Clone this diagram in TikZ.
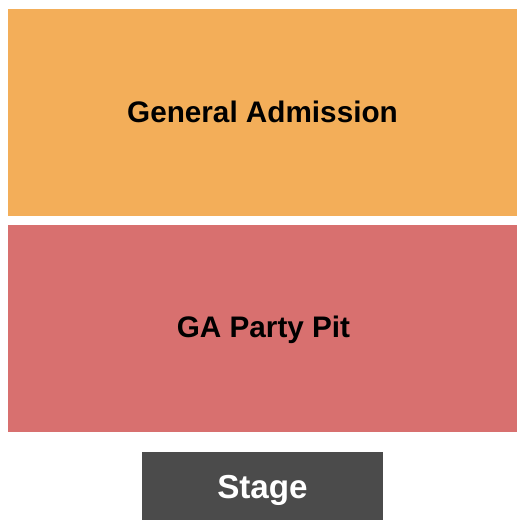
\documentclass[tikz,border=0pt]{standalone}
\usepackage{fontspec}
\setmainfont{Liberation Sans}
\definecolor{gaorange}{HTML}{F3AE59}
\definecolor{pitred}{HTML}{D8706F}
\definecolor{stagegray}{HTML}{4B4B4B}
\begin{document}
\begin{tikzpicture}[x=1pt,y=-1pt,
  lbl/.style={anchor=base,inner sep=0pt,font=\bfseries\fontsize{29.7}{34}\selectfont,text=black}]
\useasboundingbox (0,0) rectangle (525,525);
\fill[white] (0,0) rectangle (525,525);
\fill[gaorange] (8,9) rectangle (517,216);
\fill[pitred] (8,225) rectangle (517,432);
\fill[stagegray] (142,452) rectangle (383,520);
\node[lbl] (ga) at (262.5,122.3) {General Admission};
\node[lbl] (pit) at (263.5,337.3) {GA Party Pit};
\node[lbl,text=white,font=\bfseries\fontsize{33.2}{38}\selectfont] (stage) at (262.5,498.3) {Stage};
\end{tikzpicture}
\end{document}
